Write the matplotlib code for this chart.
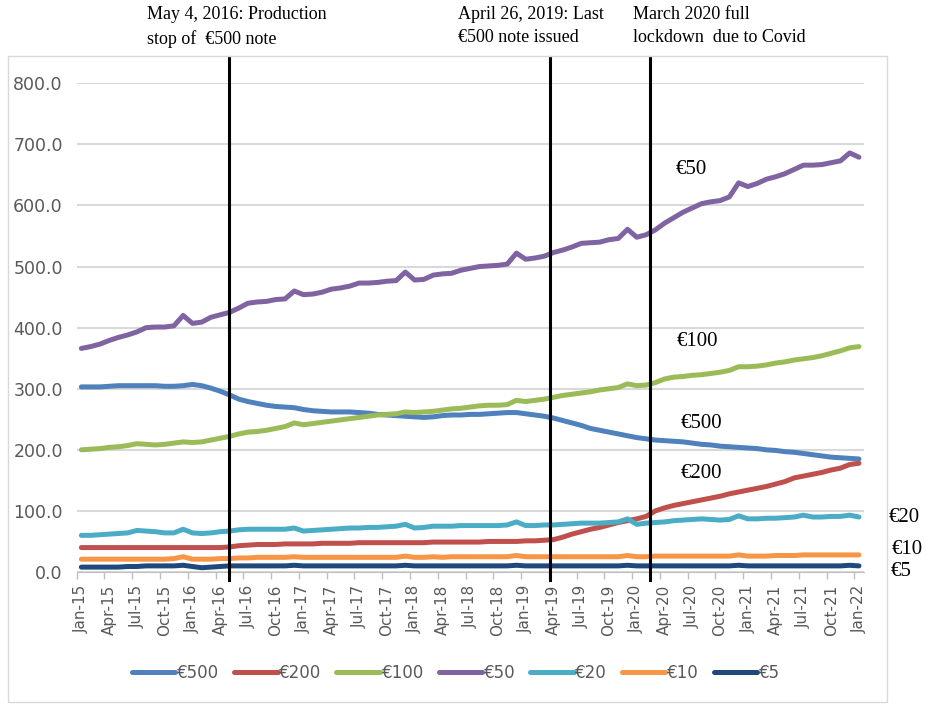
import matplotlib.pyplot as plt
from matplotlib.patches import Rectangle

# Dados mensais (bilhões de euros), Jan-15 .. Jan-22
meses = ['Jan', 'Feb', 'Mar', 'Apr', 'May', 'Jun', 'Jul', 'Aug', 'Sep', 'Oct', 'Nov', 'Dec']
datas = [f'{m}-{a}' for a in range(15, 23) for m in meses][:85]

e500 = [303, 303, 303, 304, 305, 305, 305, 305, 305, 304, 304, 305, 307, 305, 301, 296, 290,
        283, 279, 276, 273, 271, 270, 269, 266, 264, 263, 262, 262, 262, 261, 260, 258, 257,
        256, 255, 254, 253, 254, 256, 257, 257, 258, 258, 259, 260, 261, 261, 259, 257, 255,
        252, 248, 244, 240, 235, 232, 229, 226, 223, 220, 218, 216, 215, 214, 213, 211, 209,
        208, 206, 205, 204, 203, 202, 200, 199, 197, 196, 194, 192, 190, 188, 187, 186, 185]
e200 = [40, 40, 40, 40, 40, 40, 40, 40, 40, 40, 40, 40, 40, 40, 40, 40, 41, 43, 44, 45, 45,
        45, 46, 46, 46, 46, 47, 47, 47, 47, 48, 48, 48, 48, 48, 48, 48, 48, 49, 49, 49, 49,
        49, 49, 50, 50, 50, 50, 51, 51, 52, 53, 57, 62, 66, 70, 73, 77, 81, 84, 87, 91, 100,
        105, 109, 112, 115, 118, 121, 124, 128, 131, 134, 137, 140, 144, 148, 154, 157, 160,
        163, 167, 170, 176, 178]
e100 = [200, 201, 202, 204, 205, 207, 210, 209, 208, 209, 211, 213, 212, 213, 216, 219, 222,
        226, 229, 230, 232, 235, 238, 244, 241, 243, 245, 247, 249, 251, 253, 255, 257, 258,
        259, 262, 261, 262, 263, 265, 267, 268, 270, 272, 273, 273, 274, 281, 279, 281, 283,
        286, 289, 291, 293, 295, 298, 300, 302, 308, 305, 306, 310, 316, 319, 320, 322, 323,
        325, 327, 330, 336, 336, 337, 339, 342, 344, 347, 349, 351, 354, 358, 362, 367, 369]
e50 = [366, 369, 373, 379, 384, 388, 393, 400, 401, 401, 403, 420, 407, 409, 417, 421, 425,
       432, 440, 442, 443, 446, 447, 460, 454, 455, 458, 463, 465, 468, 473, 473, 474, 476,
       477, 491, 478, 479, 486, 488, 489, 494, 497, 500, 501, 502, 504, 522, 512, 514, 517,
       523, 527, 532, 538, 539, 540, 544, 546, 561, 548, 552, 560, 571, 580, 589, 596, 603,
       606, 608, 614, 637, 631, 636, 643, 647, 652, 659, 666, 666, 667, 670, 673, 686, 679]
e20 = [60, 60, 61, 62, 63, 64, 68, 67, 66, 64, 64, 70, 64, 63, 64, 66, 67, 69, 70, 70, 70,
       70, 70, 72, 67, 68, 69, 70, 71, 72, 72, 73, 73, 74, 75, 78, 72, 73, 75, 75, 75, 76,
       76, 76, 76, 76, 77, 82, 76, 76, 77, 77, 78, 79, 80, 80, 80, 81, 82, 87, 78, 80, 81,
       82, 84, 85, 86, 87, 86, 85, 86, 92, 87, 87, 88, 88, 89, 90, 93, 90, 90, 91, 91, 93, 90]
e10 = [21, 21, 21, 21, 21, 21, 21, 21, 21, 21, 22, 25, 21, 21, 21, 22, 22, 23, 23, 24, 24,
       24, 24, 25, 24, 24, 24, 24, 24, 24, 24, 24, 24, 24, 24, 26, 24, 24, 25, 24, 25, 25,
       25, 25, 25, 25, 25, 27, 25, 25, 25, 25, 25, 25, 25, 25, 25, 25, 25, 27, 25, 25, 26,
       26, 26, 26, 26, 26, 26, 26, 26, 28, 26, 26, 26, 27, 27, 27, 28, 28, 28, 28, 28, 28, 28]
e5 = [8, 8, 8, 8, 8, 9, 9, 10, 10, 10, 10, 11, 9, 7, 8, 9, 10, 10, 10, 10, 10, 10, 10, 11,
      10, 10, 10, 10, 10, 10, 10, 10, 10, 10, 10, 11, 10, 10, 10, 10, 10, 10, 10, 10, 10, 10,
      10, 11, 10, 10, 10, 10, 10, 10, 10, 10, 10, 10, 10, 11, 10, 10, 10, 10, 10, 10, 10, 10,
      10, 10, 10, 11, 10, 10, 10, 10, 10, 10, 10, 10, 10, 10, 10, 11, 10]

series = [('€500', e500, '#4F81BD'), ('€200', e200, '#C0504D'), ('€100', e100, '#9BBB59'),
          ('€50', e50, '#8064A2'), ('€20', e20, '#4BACC6'), ('€10', e10, '#F79646'),
          ('€5', e5, '#1F497D')]

# Eventos (posição em meses desde Jan-15)
eventos = [15.95, 50.6, 61.4]
textos_eventos = ['May 4, 2016: Production\nstop of  €500 note',
                  'April 26, 2019: Last\n€500 note issued',
                  'March 2020 full\nlockdown  due to Covid']

W, H = 926, 706


def px(x, y):
    return x / W, 1 - y / H


fig = plt.figure(figsize=(W / 100, H / 100), dpi=100)
fig.patches.append(Rectangle(px(8, 702), (887 - 8) / W, (702 - 56) / H, transform=fig.transFigure,
                             fill=False, edgecolor='#d9d9d9', lw=1))
ax = fig.add_axes([76.7 / W, 1 - 572 / H, 786.9 / W, (572 - 83.3) / H])

x = list(range(len(datas)))
for nome, vals, cor in series:
    ax.plot(x, vals, color=cor, lw=3.6, label=nome, solid_capstyle='round', solid_joinstyle='round')

for ev in eventos:
    ax.axvline(ev, ymin=-0.016, ymax=1.054, color='black', lw=2.2, clip_on=False, zorder=5)

ax.set_xlim(-0.5, 84.5)
ax.set_ylim(0, 800)
ax.set_yticks(range(0, 801, 100))
ax.set_yticklabels([f'{v:.1f}' for v in range(0, 801, 100)], fontsize=12.5, color='#595959')
ax.set_xticks(x[::3])
ax.set_xticklabels(datas[::3], rotation=90, fontsize=11, color='#595959')
ax.set_xticks([i - 0.5 for i in x[::3]], minor=True)
ax.tick_params(axis='x', which='major', length=0, pad=9)
ax.tick_params(axis='x', which='minor', length=5, color='#bfbfbf', width=1)
ax.tick_params(axis='y', length=0, pad=10)
ax.grid(axis='y', color='#d9d9d9', lw=1.5)
ax.set_axisbelow(True)
for s in ['left', 'right', 'top']:
    ax.spines[s].set_visible(False)
ax.spines['bottom'].set_color('#bfbfbf')

fig.legend(loc='center', bbox_to_anchor=px(456, 673), ncol=7, frameon=False, fontsize=12,
           handlelength=2.6, handletextpad=0.1, columnspacing=0.9, labelcolor='#595959')

serif = 'Liberation Serif'
for pos, txt in zip([147, 458, 633], textos_eventos):
    fig.text(*px(pos, 6), txt, fontsize=13, family=serif, va='top', ha='left', linespacing=1.5)

rotulos = [('€50', 676, 169), ('€100', 677, 342), ('€500', 681, 423), ('€200', 681, 473),
           ('€20', 889, 517), ('€10', 892, 550), ('€5', 891, 572)]
for txt, lx, ly in rotulos:
    fig.text(*px(lx, ly), txt, fontsize=15, family=serif, va='center', ha='left')

fig.savefig('out.png', dpi=100)
